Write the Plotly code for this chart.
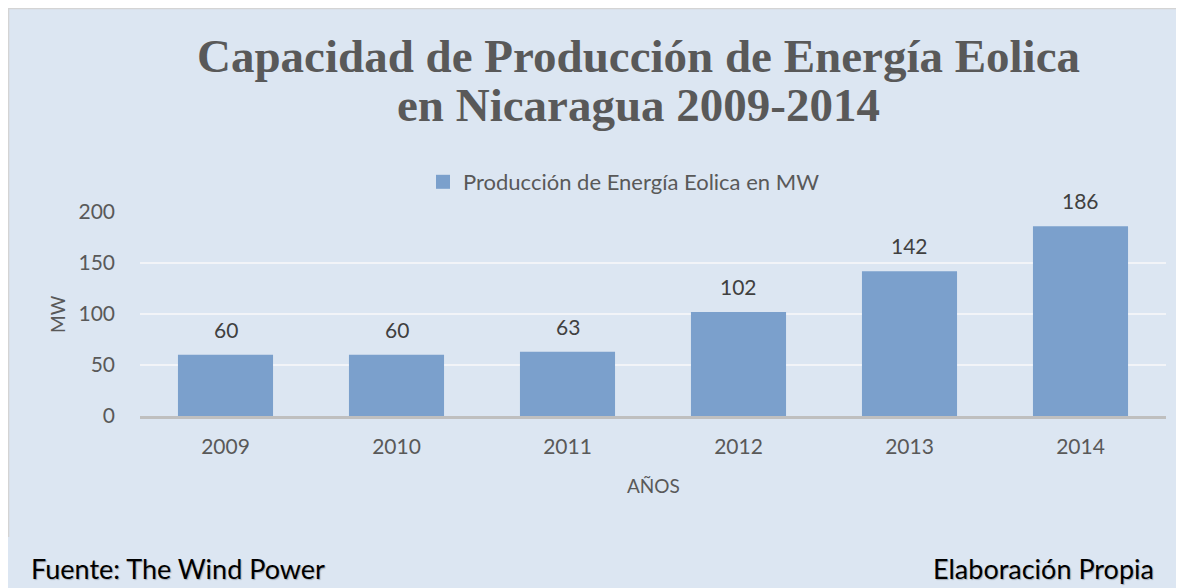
import plotly.graph_objects as go

years = ["2009", "2010", "2011", "2012", "2013", "2014"]
values = [60, 60, 63, 102, 142, 186]
series_name = "Producción de Energía Eolica en MW"
y_ticks = [0, 50, 100, 150, 200]
title_line1 = "Capacidad de Producción de Energía Eolica"
title_line2 = "en Nicaragua 2009-2014"
x_title = "AÑOS"
y_title = "MW"
source_text = "Fuente: The Wind Power"
author_text = "Elaboración Propia"

W, H = 1184, 588
OFF = 8  # page body margin
ML, MR, MT, MB = 132, 26, 204, 180
PW, PH = W - ML - MR, H - MT - MB


def px(x):
    """reference-window x pixel -> paper coordinate"""
    return (x - OFF - ML) / PW


def py(y):
    """reference-window y pixel -> paper coordinate"""
    return (H - MB - (y - OFF)) / PH


SANS = "Lato, 'Open Sans', sans-serif"
SERIF = "'Liberation Serif', serif"
BG = "#DCE6F2"
BAR = "#7BA0CC"
GREY = "#595959"

fig = go.Figure()
fig.add_trace(go.Bar(
    x=years, y=values, name=series_name,
    marker=dict(color=BAR, line=dict(width=0)),
    showlegend=False,
))
# legend entry with a larger square swatch
fig.add_trace(go.Scatter(
    x=[None], y=[None], mode="markers", name=series_name,
    marker=dict(symbol="square", size=14, color=BAR),
    showlegend=True,
))

annotations = []
for i, v in enumerate(values):
    annotations.append(dict(
        x=i, y=v, xref="x", yref="y", text=str(v), showarrow=False,
        yanchor="bottom", yshift=11,
        font=dict(family=SANS, size=21, color="#404040"),
    ))

annotations += [
    dict(x=px(638), y=py(56), xref="paper", yref="paper", text=title_line1,
         showarrow=False, xanchor="center", yanchor="middle",
         font=dict(family=SERIF, size=47, color=GREY, weight="bold")),
    dict(x=px(638), y=py(105), xref="paper", yref="paper", text=title_line2,
         showarrow=False, xanchor="center", yanchor="middle",
         font=dict(family=SERIF, size=47, color=GREY, weight="bold")),
    dict(x=px(653), y=py(485), xref="paper", yref="paper", text=x_title,
         showarrow=False, xanchor="center", yanchor="middle",
         font=dict(family=SANS, size=19, color=GREY)),
    dict(x=px(57), y=py(314), xref="paper", yref="paper", text=y_title,
         showarrow=False, xanchor="center", yanchor="middle", textangle=-90,
         font=dict(family=SANS, size=19, color=GREY)),
    dict(x=px(29), y=py(568), xref="paper", yref="paper", text=source_text,
         showarrow=False, xanchor="left", yanchor="middle",
         font=dict(family=SANS, size=27, color="#000000",
                   shadow="1px 1px 1px rgba(0,0,0,0.25)")),
    dict(x=px(1156), y=py(568), xref="paper", yref="paper", text=author_text,
         showarrow=False, xanchor="right", yanchor="middle",
         font=dict(family=SANS, size=27, color="#000000",
                   shadow="1px 1px 1px rgba(0,0,0,0.25)")),
]

shapes = [
    dict(type="line", xref="paper", yref="paper", x0=px(8), x1=px(1200),
         y0=py(8.5), y1=py(8.5), line=dict(color="#D4D4D4", width=1.5), layer="below"),
    dict(type="line", xref="paper", yref="paper", x0=px(8.5), x1=px(8.5),
         y0=py(8), y1=py(537), line=dict(color="#D4D4D4", width=1.5), layer="below"),
]

fig.update_layout(
    width=W, height=H,
    margin=dict(l=ML, r=MR, t=MT, b=MB, pad=0),
    paper_bgcolor=BG,
    plot_bgcolor="rgba(0,0,0,0)",
    bargap=0.444,
    annotations=annotations,
    shapes=shapes,
    showlegend=True,
    legend=dict(orientation="h", x=px(624), xanchor="center", y=py(182),
                yanchor="middle", font=dict(family=SANS, size=22, color=GREY),
                bgcolor="rgba(0,0,0,0)"),
    xaxis=dict(
        type="category", range=[-0.5, len(years) - 0.5], autorange=False,
        showline=True, linecolor="#BFBFBF", linewidth=2.5,
        showgrid=False, ticks="", ticklabelstandoff=10,
        tickfont=dict(family=SANS, size=21, color=GREY),
    ),
    yaxis=dict(
        range=[0, 200], autorange=False, tickvals=y_ticks, showgrid=True,
        gridcolor="#F2F4F8", gridwidth=2, zeroline=False, showline=False,
        ticks="", ticklabelstandoff=24,
        tickfont=dict(family=SANS, size=21, color=GREY),
    ),
)

fig.write_html("out.html")
